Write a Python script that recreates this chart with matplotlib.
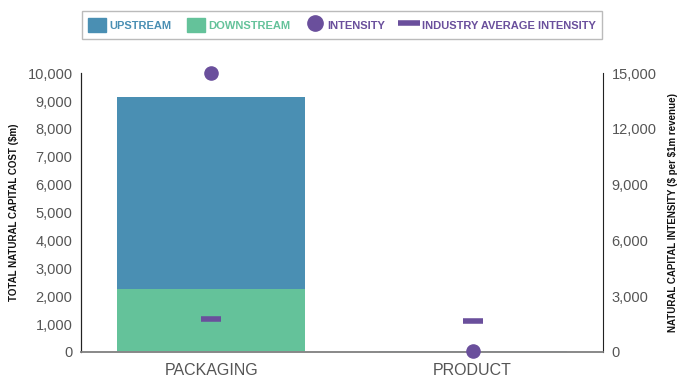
import matplotlib
matplotlib.use("Agg")
import matplotlib.pyplot as plt
from matplotlib.lines import Line2D
from matplotlib.patches import Patch

plt.rcParams['font.family'] = ['Liberation Sans', 'DejaVu Sans']

categories = ['PACKAGING', 'PRODUCT']
downstream = [2260, 10]
upstream = [6880, 10]
intensity = [15000, 60]
industry_avg = [1770, 1670]

c_up = '#4a8fb3'
c_down = '#64c29a'
c_purple = '#6a4f9c'
c_text = '#555555'

fig = plt.figure(figsize=(6.8, 3.83), dpi=100)
ax = fig.add_axes([0.119, 0.081, 0.768, 0.728])
ax2 = ax.twinx()

x = range(len(categories))
ax.bar(x, downstream, width=0.72, color=c_down, zorder=2)
ax.bar(x, upstream, width=0.72, bottom=downstream, color=c_up, zorder=2)

ax2.scatter(x, intensity, s=90, color=c_purple, zorder=5, clip_on=False)
ax2.scatter(x, industry_avg, marker='_', s=220, linewidths=4, color=c_purple, zorder=5)

ax.set_xlim(-0.5, 1.5)
ax.set_ylim(0, 10000)
ax2.set_ylim(0, 15000)
ax.set_yticks(range(0, 10001, 1000))
ax2.set_yticks(range(0, 15001, 3000))
ax.set_yticklabels([f'{v:,}' for v in range(0, 10001, 1000)])
ax2.set_yticklabels([f'{v:,}' for v in range(0, 15001, 3000)])
ax.set_xticks(list(x))
ax.set_xticklabels(categories, fontsize=11.5, color=c_text)

for a in (ax, ax2):
    a.tick_params(axis='both', length=0, labelsize=10.5, labelcolor=c_text, pad=6)
    a.spines['top'].set_visible(False)
    a.spines['bottom'].set_color('#888888')
    a.spines['bottom'].set_linewidth(1.2)
ax.tick_params(axis='x', labelsize=11.5, pad=8)
ax.spines['right'].set_visible(False)
ax2.spines['left'].set_color('#222222')
ax2.spines['right'].set_color('#222222')
ax.spines['left'].set_color('#222222')

ax.set_ylabel('TOTAL NATURAL CAPITAL COST (\\$m)', fontsize=7, fontweight='bold',
              color='#111111', labelpad=6)
ax2.set_ylabel('NATURAL CAPITAL INTENSITY (\\$ per \\$1m revenue)', fontsize=7,
               fontweight='bold', color='#111111', rotation=90, labelpad=8)

handles = [
    Patch(color=c_up),
    Patch(color=c_down),
    Line2D([], [], marker='o', linestyle='none', markersize=11, color=c_purple),
    Line2D([], [], marker='_', linestyle='none', markersize=16, markeredgewidth=4, color=c_purple),
]
labels = ['UPSTREAM', 'DOWNSTREAM', 'INTENSITY', 'INDUSTRY AVERAGE INTENSITY']
leg = fig.legend(handles, labels, loc='upper center', bbox_to_anchor=(0.503, 0.985),
                 ncol=4, frameon=True, fancybox=False, edgecolor='#aaaaaa',
                 prop={'weight': 'bold', 'size': 8}, handlelength=1.6,
                 handleheight=1.6, handletextpad=0.3, columnspacing=1.4,
                 borderpad=0.6, labelcolor=[c_up, c_down, c_purple, c_purple])

fig.savefig('out.png', dpi=100)
